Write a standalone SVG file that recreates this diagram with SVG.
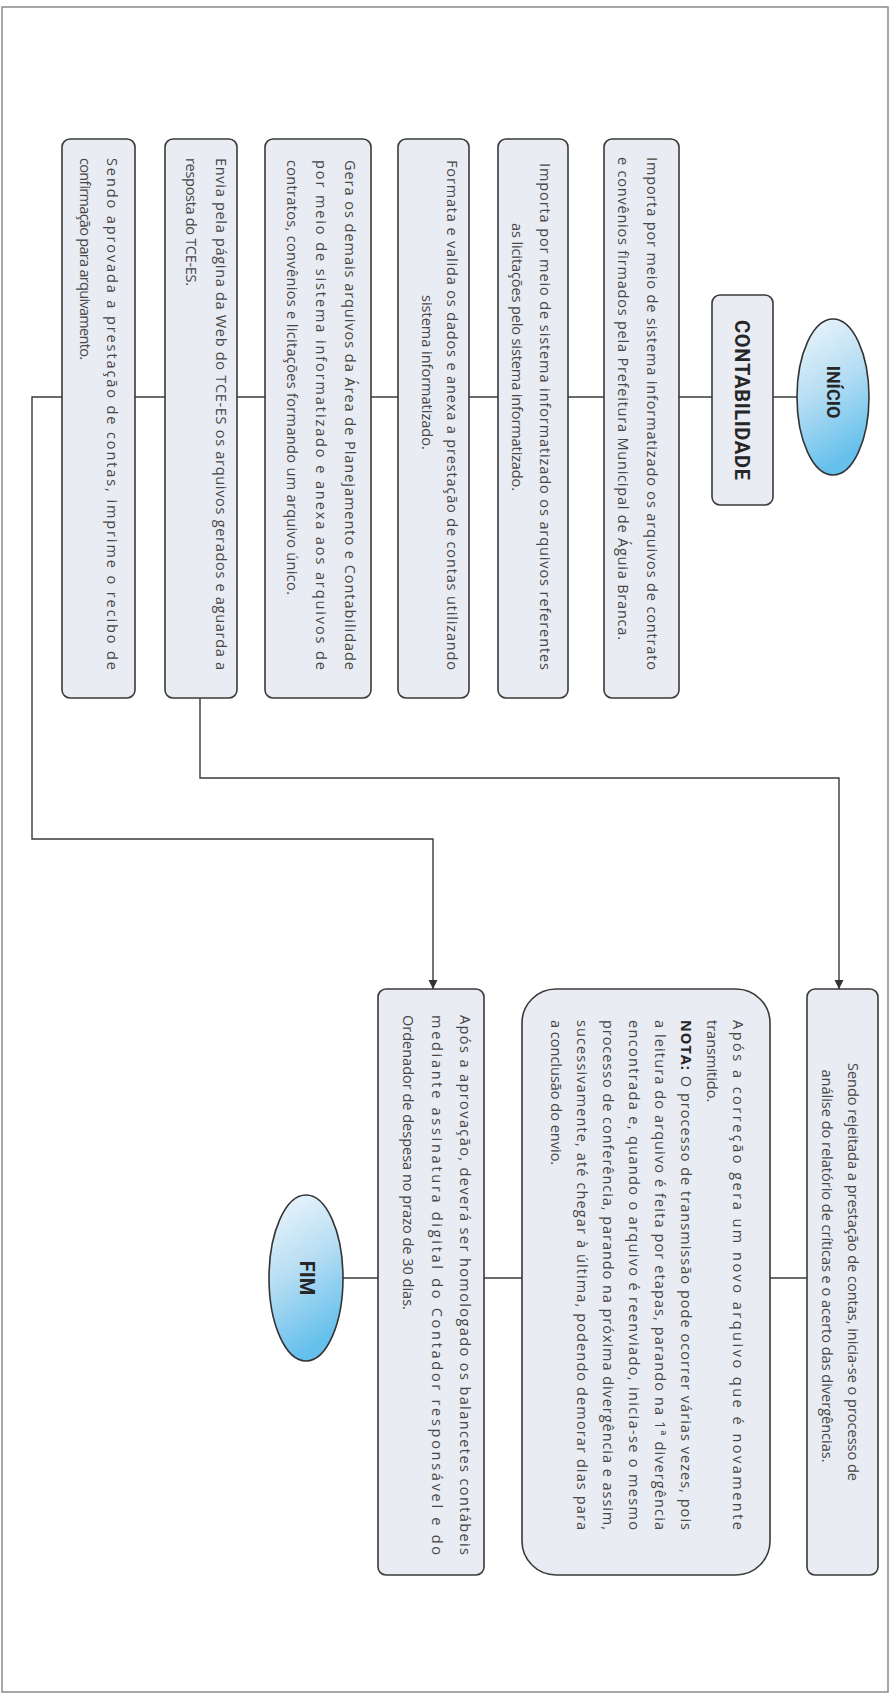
<svg xmlns="http://www.w3.org/2000/svg" width="891" height="1697" viewBox="0 0 891 1697">
<defs>
<linearGradient id="blueGrad" x1="0" y1="0" x2="0.3" y2="1">
<stop offset="0" stop-color="#f0f7fc"/>
<stop offset="0.5" stop-color="#b8def3"/>
<stop offset="1" stop-color="#66c0ec"/>
</linearGradient>
<marker id="arrow" viewBox="0 0 10 10" refX="10" refY="5" markerWidth="9" markerHeight="10" markerUnits="userSpaceOnUse" orient="auto">
<path d="M0,0 L10,5 L0,10 z" fill="#333"/>
</marker>
<style>
.box{fill:#eaecf3;stroke:#3a3a3a;stroke-width:1.6}
.ell{fill:url(#blueGrad);stroke:#333;stroke-width:1.6}
.line{fill:none;stroke:#3a3a3a;stroke-width:1.4}
.t{font-family:"Open Sans","Noto Sans","Liberation Sans",sans-serif;font-size:14.5px;fill:#464646}
.b{font-family:Roboto,"Liberation Sans",sans-serif;font-weight:bold;fill:#262626}
</style>
</defs>
<rect x="0" y="0" width="891" height="1697" fill="#ffffff"/>
<rect x="2" y="7" width="886" height="1685" fill="none" stroke="#8a8a8a" stroke-width="1.5"/>

<g id="connectors">
<path class="line" d="M797,397 H62"/>
<path class="line" d="M62,397 H32 V839 H433 V989" marker-end="url(#arrow)"/>
<path class="line" d="M200,698 V778 H839 V989" marker-end="url(#arrow)"/>
<path class="line" d="M807,1278 H343"/>
</g>

<g id="inicio">
<ellipse class="ell" cx="833" cy="397" rx="36" ry="78"/>
<text class="b" font-size="18" text-anchor="middle" transform="translate(827,392) rotate(90)">INÍCIO</text>
</g>

<g id="contabilidade">
<rect class="box" x="712" y="295" width="61" height="210" rx="8"/>
<text class="b" font-size="20" text-anchor="middle" textLength="160" lengthAdjust="spacing" transform="translate(735,400) rotate(90)">CONTABILIDADE</text>
</g>

<g id="box1">
<rect class="box" x="604" y="139" width="75" height="559" rx="8"/>
<text class="t" textLength="513" lengthAdjust="spacing" transform="translate(647,157) rotate(90)">Importa por meio de sistema informatizado os arquivos de contrato</text>
<text class="t" textLength="483" lengthAdjust="spacing" transform="translate(618,157) rotate(90)">e convênios firmados pela Prefeitura Municipal de Águia Branca.</text>
</g>

<g id="box2">
<rect class="box" x="498" y="139" width="70" height="559" rx="8"/>
<text class="t" textLength="507" lengthAdjust="spacing" transform="translate(540,163) rotate(90)">Importa por meio de sistema informatizado os arquivos referentes</text>
<text class="t" textLength="268" lengthAdjust="spacing" transform="translate(512,223) rotate(90)">as licitações pelo sistema informatizado.</text>
</g>

<g id="box3">
<rect class="box" x="398" y="139" width="71" height="559" rx="8"/>
<text class="t" textLength="510" lengthAdjust="spacing" transform="translate(447,160) rotate(90)">Formata e valida os dados e anexa a prestação de contas utilizando</text>
<text class="t" transform="translate(422,295) rotate(90)">sistema informatizado.</text>
</g>

<g id="box4">
<rect class="box" x="265" y="139" width="106" height="559" rx="8"/>
<text class="t" textLength="510" lengthAdjust="spacing" transform="translate(345,160) rotate(90)">Gera os demais arquivos da Área de Planejamento e Contabilidade</text>
<text class="t" textLength="510" lengthAdjust="spacing" transform="translate(316,160) rotate(90)">por meio de sistema informatizado e anexa aos arquivos de</text>
<text class="t" textLength="435" lengthAdjust="spacing" transform="translate(287,160) rotate(90)">contratos, convênios e licitações formando um arquivo único.</text>
</g>

<g id="box5">
<rect class="box" x="165" y="139" width="72" height="559" rx="8"/>
<text class="t" textLength="512" lengthAdjust="spacing" transform="translate(216,158) rotate(90)">Envia pela página da Web do TCE-ES os arquivos gerados e aguarda a</text>
<text class="t" textLength="128" lengthAdjust="spacing" transform="translate(186,158) rotate(90)">resposta do TCE-ES.</text>
</g>

<g id="box6">
<rect class="box" x="62" y="139" width="73" height="559" rx="8"/>
<text class="t" textLength="512" lengthAdjust="spacing" transform="translate(107,158) rotate(90)">Sendo aprovada a prestação de contas, imprime o recibo de</text>
<text class="t" textLength="202" lengthAdjust="spacing" transform="translate(80,158) rotate(90)">confirmação para arquivamento.</text>
</g>

<g id="box7">
<rect class="box" x="807" y="989" width="71" height="586" rx="8"/>
<text class="t" font-size="15" text-anchor="middle" transform="translate(848,1272) rotate(90)">Sendo rejeitada a prestação de contas, inicia-se o processo de</text>
<text class="t" font-size="15" text-anchor="middle" transform="translate(822,1266) rotate(90)">análise do relatório de críticas e o acerto das divergências.</text>
</g>

<g id="box8">
<rect class="box" x="522" y="989" width="248" height="586" rx="34"/>
<text class="t" textLength="510" lengthAdjust="spacing" transform="translate(733,1020) rotate(90)">Após a correção gera um novo arquivo que é novamente</text>
<text class="t" transform="translate(707,1020) rotate(90)">transmitido.</text>
<text class="t" textLength="510" lengthAdjust="spacing" transform="translate(681,1020) rotate(90)"><tspan font-weight="bold" fill="#262626">NOTA:</tspan> O processo de transmissão pode ocorrer várias vezes, pois</text>
<text class="t" textLength="510" lengthAdjust="spacing" transform="translate(655,1020) rotate(90)">a leitura do arquivo é feita por etapas, parando na 1ª divergência</text>
<text class="t" textLength="510" lengthAdjust="spacing" transform="translate(629,1020) rotate(90)">encontrada e, quando o arquivo é reenviado, inicia-se o mesmo</text>
<text class="t" textLength="510" lengthAdjust="spacing" transform="translate(603,1020) rotate(90)">processo de conferência, parando na próxima divergência e assim,</text>
<text class="t" textLength="510" lengthAdjust="spacing" transform="translate(577,1020) rotate(90)">sucessivamente, até chegar à última, podendo demorar dias para</text>
<text class="t" transform="translate(551,1020) rotate(90)">a conclusão do envio.</text>
</g>

<g id="box9">
<rect class="box" x="378" y="989" width="106" height="586" rx="8"/>
<text class="t" textLength="540" lengthAdjust="spacing" transform="translate(460,1015) rotate(90)">Após a aprovação, deverá ser homologado os balancetes contábeis</text>
<text class="t" textLength="540" lengthAdjust="spacing" transform="translate(432,1015) rotate(90)">mediante assinatura digital do Contador responsável e do</text>
<text class="t" font-size="13.5" transform="translate(403,1015) rotate(90)">Ordenador de despesa no prazo de 30 dias.</text>
</g>

<g id="fim">
<ellipse class="ell" cx="306" cy="1278" rx="37" ry="83"/>
<text class="b" font-size="20" text-anchor="middle" transform="translate(300,1278) rotate(90)">FIM</text>
</g>
</svg>
